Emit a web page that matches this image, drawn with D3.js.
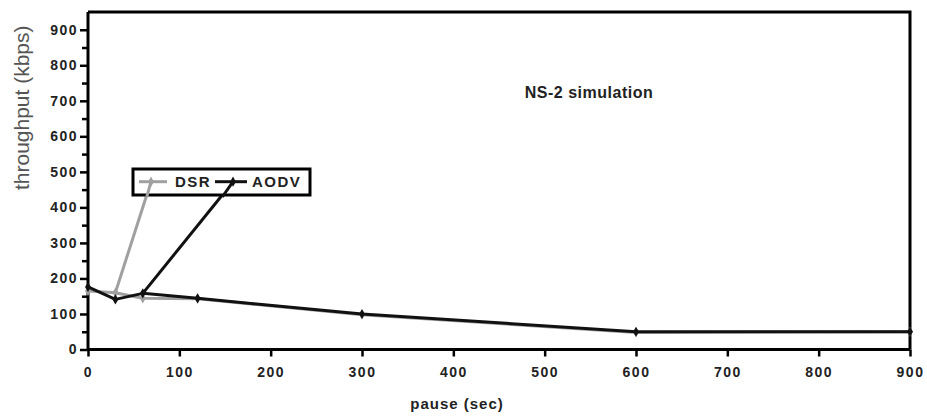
<!DOCTYPE html>
<meta charset="utf-8">
<script src="https://d3js.org/d3.v7.min.js"></script>
<style>
  body { margin: 0; background: #fff; }
  text { font-family: "Liberation Sans", Arial, sans-serif; }
</style>
<div id="chart"></div>
<script>

// data
var pauseTimes     = [0, 30, 60, 120, 300, 600, 900];
var dsrThroughput  = [165, 160, 144, 143, 98, 48, 50];
var aodvThroughput = [176, 141, 158, 144, 100, 50, 50];
var seriesNames    = ["DSR", "AODV"];
var seriesColors   = ["#a0a0a0", "#111111"];
// the point of each series that is joined to its legend sample in the original
var legendLinkPause = [30, 60];
var xTicks = [0, 100, 200, 300, 400, 500, 600, 700, 800, 900];
var yTicks = [0, 100, 200, 300, 400, 500, 600, 700, 800, 900];
var yMinorTicks = [50, 150, 250, 350, 450, 550, 650, 750, 850];

var W = 927, H = 416;
var margin = {top: 12, right: 17, bottom: 66.5, left: 88};
var width = W - margin.left - margin.right,
    height = H - margin.top - margin.bottom;

var svg = d3.select("#chart").append("svg")
  .attr("width", W).attr("height", H);
var g = svg.append("g")
  .attr("transform", "translate(" + margin.left + "," + margin.top + ")");

var x = d3.scaleLinear().domain([0, 900]).range([0, width]);
var y = d3.scaleLinear().domain([0, 950]).range([height, 0]);

// frame (top and right)
g.append("path")
  .attr("d", "M0,0H" + width + "V" + height)
  .attr("fill", "none").attr("stroke", "#000").attr("stroke-width", 3);

// x axis
var xAxis = g.append("g")
  .attr("transform", "translate(0," + height + ")")
  .call(d3.axisBottom(x).tickValues(xTicks).tickSize(7).tickPadding(11).tickSizeOuter(0));
// y axis
var yAxis = g.append("g")
  .call(d3.axisLeft(y).tickValues(yTicks).tickSize(8).tickPadding(2).tickSizeOuter(0));
// y minor ticks
g.append("g")
  .call(d3.axisLeft(y).tickValues(yMinorTicks).tickSize(6).tickFormat("").tickSizeOuter(0))
  .select(".domain").remove();

g.selectAll(".domain").attr("stroke-width", 3);
g.selectAll(".tick line").attr("stroke-width", 2.5);
g.selectAll(".tick text")
  .style("font-size", "14px").style("font-weight", "bold")
  .style("letter-spacing", "1.5px").attr("fill", "#222");
yAxis.select(".domain").attr("d", "M0," + height + "V0");
xAxis.select(".domain").attr("d", "M0,0H" + width);

// axis titles
g.append("text")
  .attr("x", width / 2 - 42).attr("y", height + 59)
  .attr("text-anchor", "middle")
  .style("font-size", "15px").style("font-weight", "bold").style("letter-spacing", "1px")
  .attr("fill", "#222")
  .text("pause (sec)");

g.append("text")
  .attr("transform", "translate(" + (-59) + "," + (y(900) + 78) + ") rotate(-90)")
  .attr("text-anchor", "middle")
  .style("font-size", "21px").attr("fill", "#555")
  .text("throughput (kbps)");

// annotation
g.append("text")
  .attr("x", 501).attr("y", 86)
  .attr("text-anchor", "middle")
  .style("font-size", "16px").style("font-weight", "bold").style("letter-spacing", "0.5px")
  .attr("fill", "#222")
  .text("NS-2 simulation");

// legend layout (pixels, relative to plot)
var legendBox = {x: 45, y: 157, w: 177, h: 26};
var legendItems = [
  {x1: 51, x2: 79, mark: 63, tx: 87},
  {x1: 127, x2: 159, mark: 145, tx: 164}
];
var legendY = 169.7;

var series = [dsrThroughput, aodvThroughput].map(function(vals, i) {
  return {
    name: seriesNames[i],
    color: seriesColors[i],
    points: pauseTimes.map(function(p, j) { return {p: p, v: vals[j]}; }),
    link: legendLinkPause[i],
    item: legendItems[i]
  };
});

var line = d3.line().x(function(d) { return x(d.p); }).y(function(d) { return y(d.v); });

series.forEach(function(s) {
  var lp = s.points.find(function(d) { return d.p === s.link; });
  // leader from data point to legend sample
  g.append("line")
    .attr("x1", x(lp.p)).attr("y1", y(lp.v))
    .attr("x2", s.item.mark).attr("y2", legendY)
    .attr("stroke", s.color).attr("stroke-width", 3);
});

// lines: DSR under AODV
series.forEach(function(s) {
  g.append("path")
    .datum(s.points)
    .attr("fill", "none")
    .attr("stroke", s.color)
    .attr("stroke-width", 3)
    .attr("stroke-linejoin", "round")
    .attr("d", line);
  g.selectAll(null)
    .data(s.points)
    .enter().append("path")
    .attr("transform", function(d) { return "translate(" + x(d.p) + "," + y(d.v) + ")"; })
    .attr("d", d3.symbol().type(d3.symbolDiamond).size(30))
    .attr("fill", s.color);
});

// legend
g.append("rect")
  .attr("x", legendBox.x).attr("y", legendBox.y)
  .attr("width", legendBox.w).attr("height", legendBox.h)
  .attr("fill", "#fff").attr("stroke", "#000").attr("stroke-width", 3);

series.forEach(function(s) {
  g.append("line")
    .attr("x1", s.item.x1).attr("x2", s.item.x2)
    .attr("y1", legendY).attr("y2", legendY)
    .attr("stroke", s.color).attr("stroke-width", 3);
  g.append("path")
    .attr("transform", "translate(" + s.item.mark + "," + legendY + ")")
    .attr("d", d3.symbol().type(d3.symbolDiamond).size(30))
    .attr("fill", s.color);
  g.append("text")
    .attr("x", s.item.tx).attr("y", legendY + 5)
    .style("font-size", "15px").style("font-weight", "bold").style("letter-spacing", "1.5px")
    .attr("fill", "#222")
    .text(s.name);
});

// leaders pass over the legend frame in the original
series.forEach(function(s) {
  var lp = s.points.find(function(d) { return d.p === s.link; });
  var top = legendBox.y + legendBox.h;
  var t = (top - y(lp.v)) / (legendY - y(lp.v));
  g.append("line")
    .attr("x1", x(lp.p) + t * (s.item.mark - x(lp.p)) ).attr("y1", top + 2)
    .attr("x2", s.item.mark).attr("y2", legendY)
    .attr("stroke", s.color).attr("stroke-width", 3);
});

</script>
